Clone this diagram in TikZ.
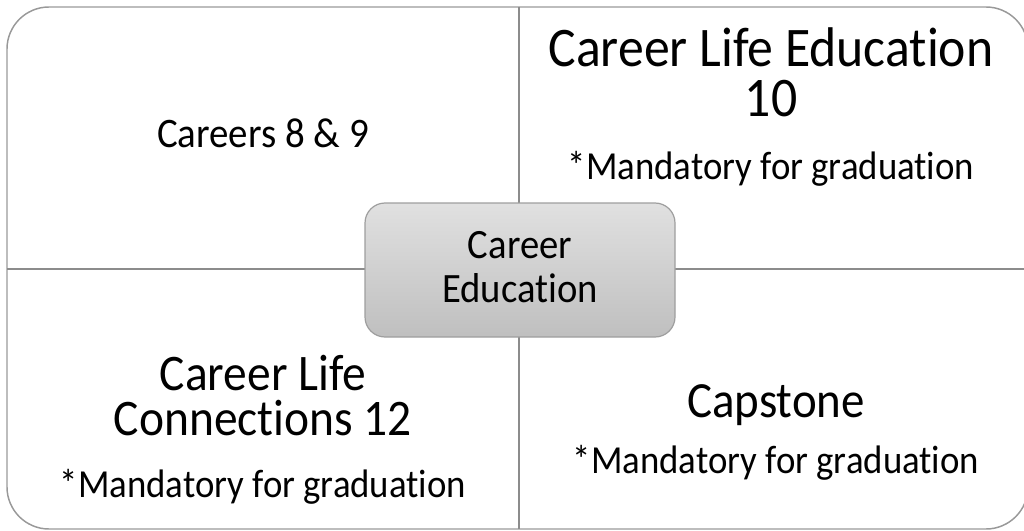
\documentclass[tikz,border=0pt]{standalone}
\usepackage{graphicx}
\usepackage{fontspec}
\setmainfont{Carlito}[Ligatures=NoCommon]
\newcommand\tall[1]{\scalebox{1}[1.08]{#1}}
\begin{document}
\begin{tikzpicture}[x=0.75pt,y=-0.75pt]
	\tikzset{
		quad/.style={anchor=base,inner sep=0pt},
		head/.style={quad,font=\fontsize{38.8}{46}\selectfont},
		headb/.style={quad,font=\fontsize{35.6}{43}\selectfont},
		note/.style={quad,font=\fontsize{27.6}{33}\selectfont},
		hub/.style={draw=black!38,line width=0.9pt,rounded corners=15pt,
			top color=black!12,bottom color=black!25,
			minimum width=232.5pt,minimum height=100.5pt,inner sep=0pt},
	}
	\useasboundingbox (0,0) rectangle (1024,531);
	%FRAME
	\draw[black!40,line width=1.1pt,rounded corners=31.5pt] (7,7) rectangle (1028,529);
	%DIVIDERS
	\coordinate (top) at (519,7);
	\coordinate (bot) at (519,529);
	\coordinate (lft) at (7,269);
	\coordinate (rgt) at (1028,269);
	\draw[black!45,line width=0.9pt] (top) -- (bot);
	\draw[black!45,line width=0.9pt] (lft) -- (rgt);
	%CENTER
	\node[hub] (hub) at (520,270) {};
	\node[quad,font=\fontsize{29}{34}\selectfont] (hub1) at (520,258) {\tall{Career}};
	\node[quad,font=\fontsize{29}{34}\selectfont] (hub2) at (520,302) {\tall{Education}};
	%top left
	\node[quad,font=\fontsize{29.2}{35}\selectfont] (c89) at (263,147) {\tall{Careers 8 \& 9}};
	%top right
	\node[head] (cle1) at (771,67) {\tall{Career Life Education}};
	\node[head] (cle2) at (771,117) {\tall{10}};
	\node[note] (cle3) at (771,180) {\tall{*Mandatory for graduation}};
	%bottom left
	\node[headb] (clc1) at (263,390) {\tall{Career Life}};
	\node[headb] (clc2) at (263,435) {\tall{Connections 12}};
	\node[note] (clc3) at (263,497) {\tall{*Mandatory for graduation}};
	%bottom right
	\node[quad,font=\fontsize{35.2}{42}\selectfont] (cap1) at (776,417) {\tall{Capstone}};
	\node[note] (cap2) at (776,473) {\tall{*Mandatory for graduation}};
\end{tikzpicture}
\end{document}
